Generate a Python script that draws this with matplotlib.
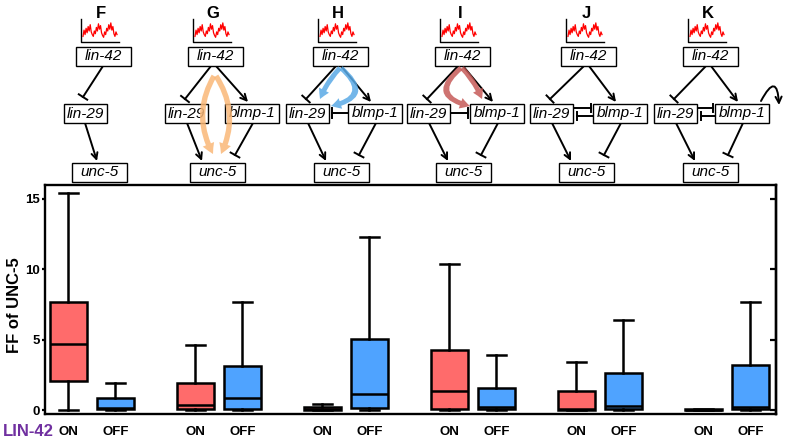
import numpy as np
import matplotlib.pyplot as plt
from matplotlib.patches import Rectangle, FancyArrowPatch

plt.rcParams['font.family'] = ['Liberation Sans', 'DejaVu Sans']

# data: box statistics of FF of UNC-5 for each model, LIN-42 ON / OFF
models = ["F", "G", "H", "I", "J", "K"]
on_low = [0, 0, 0, 0, 0, 0]
on_q1 = [2.06, 0.05, 0.0, 0.1, 0.02, 0.0]
on_med = [4.69, 0.36, 0.1, 1.37, 0.05, 0.02]
on_q3 = [7.70, 1.90, 0.19, 4.26, 1.37, 0.05]
on_high = [15.45, 4.62, 0.43, 10.38, 3.43, 0.10]
off_low = [0, 0, 0, 0, 0, 0]
off_q1 = [0.05, 0.10, 0.17, 0.05, 0.05, 0.05]
off_med = [0.12, 0.83, 1.11, 0.24, 0.31, 0.24]
off_q3 = [0.83, 3.15, 5.02, 1.54, 2.60, 3.17]
off_high = [1.94, 7.70, 12.27, 3.88, 6.40, 7.65]
state_labels = ["ON", "OFF"]
yticks = [0, 5, 10, 15]

# small lin-42 oscillation icon (hand read)
wave = [0.2, 0.55, 0.3, 0.65, 0.4, 0.75, 0.5, 0.85, 0.45, 0.3, 0.2, 0.5,
        0.35, 0.7, 0.5, 0.9, 0.6, 0.8, 0.4, 0.25, 0.15, 0.45, 0.3, 0.65,
        0.5, 0.85, 0.6, 0.95, 0.55, 0.75, 0.35, 0.2, 0.45, 0.3]

RED = "#FF6B6B"
BLUE = "#4FA3FF"

fig = plt.figure(figsize=(7.87, 4.38), dpi=100)

# ---------- network diagrams (pixel coordinates overlay) ----------
ov = fig.add_axes([0, 0, 1, 1])
ov.set_xlim(0, 787)
ov.set_ylim(438, 0)
ov.axis("off")

def node(x, y, w, label):
    ov.add_patch(Rectangle((x - w / 2, y - 9.5), w, 19, fc="white", ec="black", lw=1.0, zorder=3))
    ov.text(x, y + 0.5, label, style="italic", fontsize=11, ha="center", va="center", zorder=4)

def arrow(p0, p1):
    ov.add_patch(FancyArrowPatch(p0, p1, arrowstyle="->", mutation_scale=11, lw=1.4,
                                 color="black", shrinkA=0, shrinkB=0, zorder=2))

def tbar(p0, p1, h=5):
    p0, p1 = np.array(p0, float), np.array(p1, float)
    d = (p1 - p0) / np.hypot(*(p1 - p0))
    n = np.array([-d[1], d[0]])
    ov.plot([p0[0], p1[0]], [p0[1], p1[1]], color="black", lw=1.4, zorder=2)
    ov.plot([p1[0] - n[0] * h, p1[0] + n[0] * h], [p1[1] - n[1] * h, p1[1] + n[1] * h],
            color="black", lw=1.4, zorder=2)

def fat(p0, p1, rad, color, scale=10):
    ov.add_patch(FancyArrowPatch(p0, p1, arrowstyle="simple,head_length=0.7,head_width=0.8,tail_width=0.35",
                                 mutation_scale=scale, connectionstyle=f"arc3,rad={rad}",
                                 color=color, alpha=0.85, lw=0, shrinkA=0, shrinkB=0, zorder=5))

Y1, Y2, Y3 = 56, 113, 172
panels = [  # letter, lin-42 x, lin-29 x, blmp-1 x, unc-5 x
    ("F", 103, 85, None, 99),
    ("G", 215, 186, 252, 217),
    ("H", 340, 307, 375, 341),
    ("I", 462, 428, 497, 463),
    ("J", 588, 551, 620, 586),
    ("K", 710, 675, 742, 710),
]
for letter, cx, lx, bx, ux in panels:
    ov.text(cx - 2, 13, letter, fontsize=12, fontweight="bold", ha="center", va="center")
    # oscillation icon
    left, right, top, bot = cx - 22, cx + 16, 19, 42
    ov.plot([left, left, right], [top, bot, bot], color="black", lw=1.0)
    xs = np.linspace(left + 2, right - 2, len(wave))
    ys = bot - 2 - np.array(wave) * (bot - top - 5)
    ov.plot(xs, ys, color="red", lw=0.9)
    node(cx, Y1, 55, "lin-42")
    node(lx, Y2, 43, "lin-29")
    node(ux, Y3, 55, "unc-5")
    if bx is None:
        tbar((cx, Y1 + 10), (lx - 2, 97))
        arrow((lx, Y2 + 10), (ux - 2, 161))
        continue
    node(bx, Y2, 54, "blmp-1")
    tbar((cx - 4, Y1 + 10), (lx - 1, 99))
    arrow((cx + 1, Y1 + 10), (bx - 4, 102))
    arrow((lx + 1, Y2 + 10), (ux - 15, 161))
    tbar((bx + 1, Y2 + 10), (ux + 18, 155))
    if letter == "H":
        tbar((bx - 27, Y2), (lx + 25, Y2), h=5)
    if letter == "I":
        tbar((lx + 22, Y2), (bx - 29, Y2), h=5)
    if letter in ("J", "K"):
        tbar((lx + 22, Y2 - 5), (bx - 29, Y2 - 5), h=4)
        tbar((bx - 27, Y2 + 3), (lx + 26, Y2 + 3), h=4)

# coloured flux arrows
fat((214, 76), (213, 154), 0.28, "#FAB878", 11)
fat((216, 76), (221, 154), -0.28, "#FAB878", 11)
fat((340, 68), (320, 99), 0.1, "#5AAAE6")
fat((341, 68), (331, 106), -1.0, "#5AAAE6")
fat((462, 68), (482, 99), -0.1, "#C65A58")
fat((461, 68), (470, 106), 1.0, "#C65A58")
# self-activation of blmp-1 in K
ov.add_patch(FancyArrowPatch((761, 101), (779, 105), arrowstyle="->", mutation_scale=11, lw=1.4,
                             connectionstyle="arc3,rad=-1.8", color="black", shrinkA=0, shrinkB=0))

# ---------- box plot ----------
ax = fig.add_axes([45 / 787, 1 - 414 / 438, 731 / 787, 229 / 438])
grp = np.arange(len(models))
on_pos = grp - 0.185
off_pos = grp + 0.185

def stats(lo, q1, med, q3, hi):
    return [dict(whislo=a, q1=b, med=c, q3=d, whishi=e) for a, b, c, d, e in zip(lo, q1, med, q3, hi)]

common = dict(widths=0.29, patch_artist=True, showfliers=False,
              medianprops=dict(color="black", lw=1.8),
              whiskerprops=dict(color="black", lw=1.8),
              capprops=dict(color="black", lw=1.8))
ax.bxp(stats(on_low, on_q1, on_med, on_q3, on_high), positions=on_pos,
       boxprops=dict(facecolor=RED, edgecolor="black", lw=1.8), **common)
ax.bxp(stats(off_low, off_q1, off_med, off_q3, off_high), positions=off_pos,
       boxprops=dict(facecolor=BLUE, edgecolor="black", lw=1.8), **common)

ax.set_xlim(-0.37, 5.386)
ax.set_ylim(-0.284, 15.99)
pos = np.concatenate([on_pos, off_pos])
labs = [state_labels[0]] * len(models) + [state_labels[1]] * len(models)
ax.set_xticks(pos)
ax.set_xticklabels(labs, fontsize=9.5, fontweight="bold")
ax.tick_params(axis="x", length=0, pad=8.5)
ax.set_yticks(yticks)
ax.set_yticklabels([str(t) for t in yticks], fontsize=9.5, fontweight="bold")
ax.tick_params(axis="y", length=2.5, width=1.6, pad=1)
for s in ax.spines.values():
    s.set_linewidth(1.7)
sec = ax.secondary_yaxis("right")
sec.set_yticks(yticks)
sec.tick_params(direction="in", length=4, width=1.6, labelright=False)
sec.spines["right"].set_linewidth(1.7)

ax.set_ylabel("FF of UNC-5", fontsize=12, fontweight="bold")
ax.yaxis.set_label_coords(-0.032, 0.476)
fig.text(28 / 787, 1 - 431 / 438, "LIN-42", color="#7030A0", fontsize=12,
         fontweight="bold", ha="center", va="center")

fig.savefig("out.png", dpi=100)
